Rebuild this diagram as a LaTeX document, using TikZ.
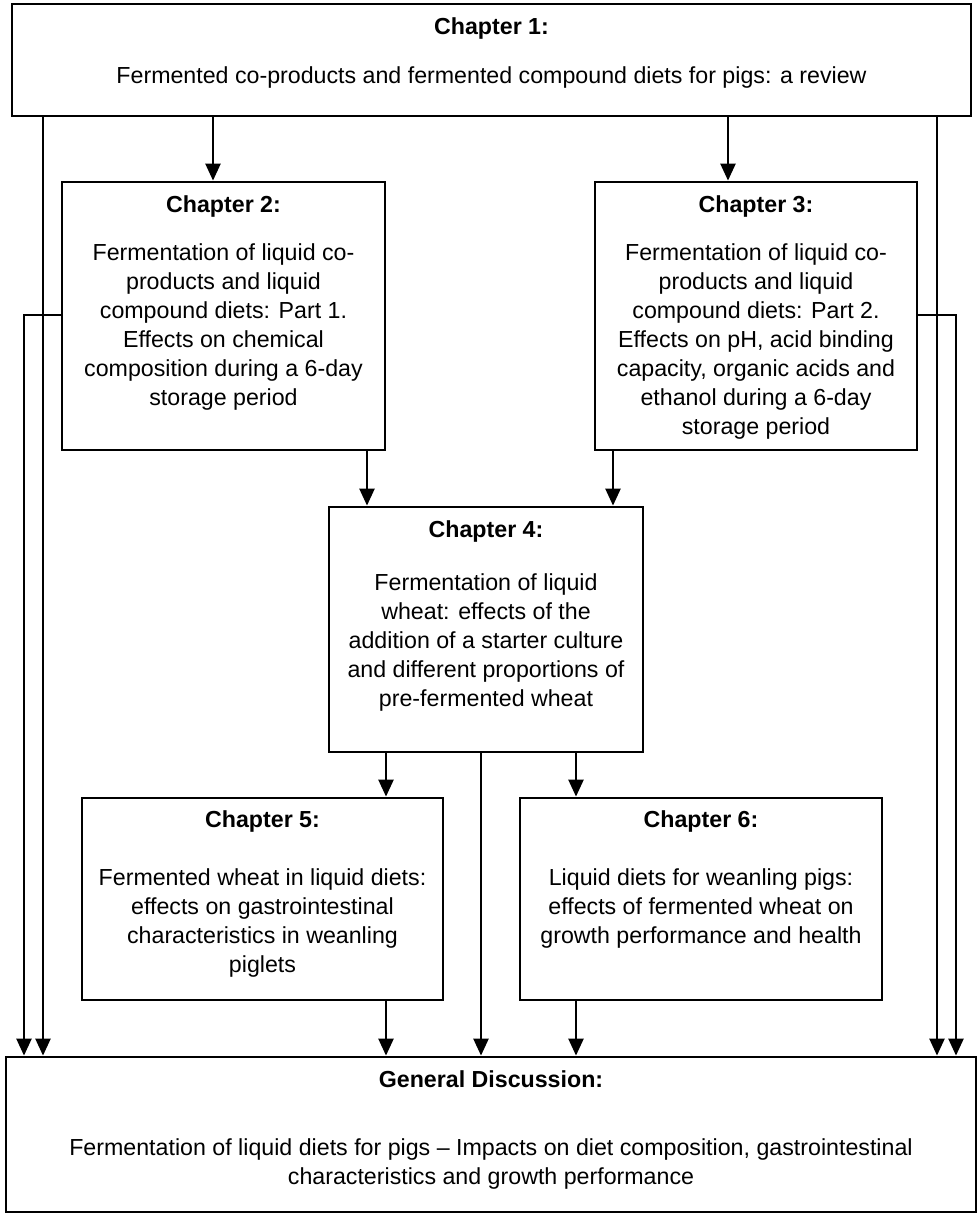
\documentclass[tikz,border=0pt]{standalone}
\usepackage{fontspec}
\setmainfont{Liberation Sans}
\usetikzlibrary{arrows.meta,calc}
\begin{document}
\begin{tikzpicture}[x=1pt,y=-1pt,
  box/.style={draw, line width=2.8pt, inner sep=0pt, rectangle},
  ttl/.style={font=\bfseries\fontsize{23.2}{29}\selectfont, anchor=north, inner sep=0pt, align=center},
  body/.style={font=\fontsize{23.2}{29}\selectfont, anchor=north, inner sep=0pt, align=center},
  arr/.style={line width=2.4pt, -{Triangle[width=15pt,length=17pt]}}]
\useasboundingbox (0,0) rectangle (978,1216);
\fill[white] (0,0) rectangle (978,1216);
% boxes
\node[box, minimum width=959pt, minimum height=112pt] (ch1) at (491.5,60) {};
\node[box, minimum width=323pt, minimum height=268pt] (ch2) at (223.5,316) {};
\node[box, minimum width=322pt, minimum height=268pt] (ch3) at (756,316) {};
\node[box, minimum width=314pt, minimum height=245pt] (ch4) at (486,629.5) {};
\node[box, minimum width=361pt, minimum height=202pt] (ch5) at (262.5,899) {};
\node[box, minimum width=362pt, minimum height=202pt] (ch6) at (701,899) {};
\node[box, minimum width=970pt, minimum height=155pt] (gd) at (491,1134.5) {};
% texts
\node[ttl] (t1) at (491.5,17) {Chapter 1:};
\node[body] (b1) at (491.5,66) {Fermented co-products and fermented compound diets for pigs: a review};
\node[ttl] (t2) at (223.5,195) {Chapter 2:};
\node[body] (b2) at (223.5,243) {Fermentation of liquid co-\\products and liquid\\compound diets: Part 1.\\Effects on chemical\\composition during a 6-day\\storage period};
\node[ttl] (t3) at (756,195) {Chapter 3:};
\node[body] (b3) at (756,243) {Fermentation of liquid co-\\products and liquid\\compound diets: Part 2.\\Effects on pH, acid binding\\capacity, organic acids and\\ethanol during a 6-day\\storage period};
\node[ttl] (t4) at (486,520) {Chapter 4:};
\node[body] (b4) at (486,573) {Fermentation of liquid\\wheat: effects of the\\addition of a starter culture\\and different proportions of\\pre-fermented wheat};
\node[ttl] (t5) at (262.5,810) {Chapter 5:};
\node[body] (b5) at (262.5,868) {Fermented wheat in liquid diets:\\effects on gastrointestinal\\characteristics in weanling\\piglets};
\node[ttl] (t6) at (701,810) {Chapter 6:};
\node[body] (b6) at (701,868) {Liquid diets for weanling pigs:\\effects of fermented wheat on\\growth performance and health};
\node[ttl] (tg) at (491,1070) {General Discussion:};
\node[body] (bg) at (491,1138) {Fermentation of liquid diets for pigs -- Impacts on diet composition, gastrointestinal\\characteristics and growth performance};
% connector x positions
\coordinate (xA) at (213,0);
\coordinate (xB) at (728,0);
\coordinate (xC) at (367,0);
\coordinate (xD) at (613,0);
\coordinate (xE) at (386,0);
\coordinate (xF) at (576,0);
\coordinate (xG) at (481,0);
\coordinate (xL1) at (24,0);
\coordinate (xL2) at (43,0);
\coordinate (xR1) at (937,0);
\coordinate (xR2) at (956,0);
\coordinate (yS) at (0,315);
% connectors
\draw[arr] (ch1.south -| xA) -- (ch2.north -| xA);
\draw[arr] (ch1.south -| xB) -- (ch3.north -| xB);
\draw[arr] (ch2.south -| xC) -- (ch4.north -| xC);
\draw[arr] (ch3.south -| xD) -- (ch4.north -| xD);
\draw[arr] (ch4.south -| xE) -- (ch5.north -| xE);
\draw[arr] (ch4.south -| xF) -- (ch6.north -| xF);
\draw[arr] (ch4.south -| xG) -- (gd.north -| xG);
\draw[arr] (ch5.south -| xE) -- (gd.north -| xE);
\draw[arr] (ch6.south -| xF) -- (gd.north -| xF);
\draw[arr] (ch1.south -| xL2) -- (gd.north -| xL2);
\draw[arr] (ch1.south -| xR1) -- (gd.north -| xR1);
\draw[arr] (ch2.west |- yS) -| (gd.north -| xL1);
\draw[arr] (ch3.east |- yS) -| (gd.north -| xR2);
\end{tikzpicture}
\end{document}
